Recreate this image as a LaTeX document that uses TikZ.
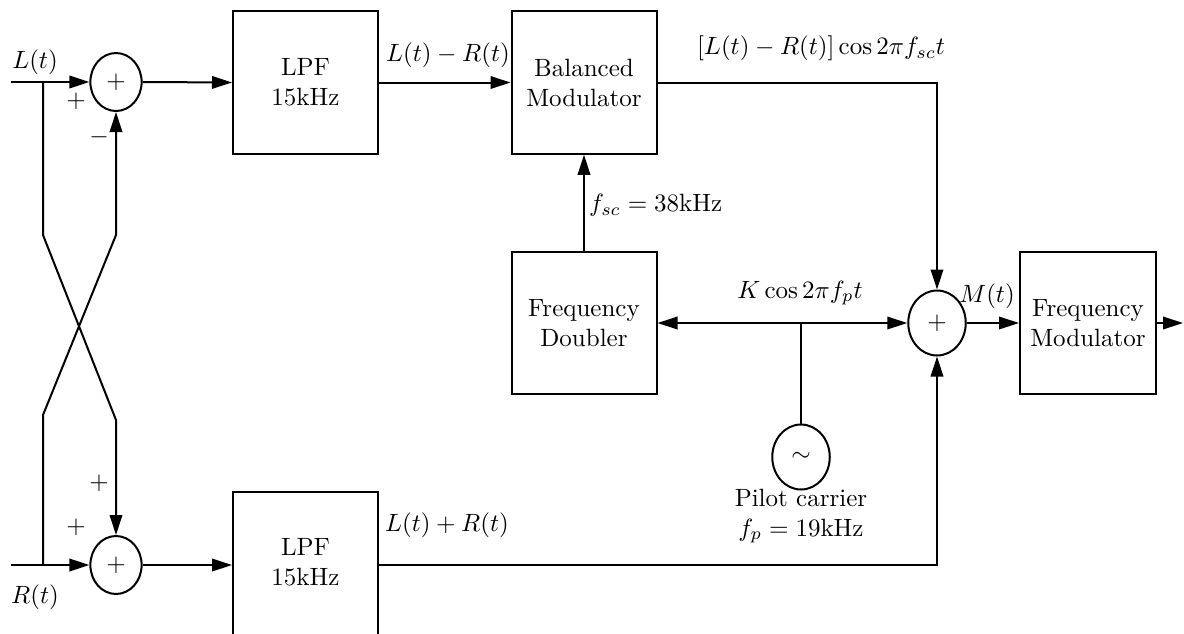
\documentclass[tikz,border=0pt]{standalone}
\usetikzlibrary{arrows.meta,shapes.geometric,calc}
\begin{document}
\begin{tikzpicture}[x=0.4pt,y=-0.4pt,
  line width=0.8pt,
  arr/.style={-{Triangle[length=8pt,width=5pt]}},
  blk/.style={draw,line width=0.8pt,rectangle,align=center,inner sep=0pt,minimum width=58pt,minimum height=57pt},
  summ/.style={draw,line width=0.8pt,ellipse,inner sep=0pt,minimum width=20.5pt,minimum height=23.2pt},
  summb/.style={draw,line width=0.8pt,ellipse,inner sep=0pt,minimum width=23pt,minimum height=26pt},
  lbl/.style={inner sep=0pt}]
\useasboundingbox (0,0) rectangle (1184,633);
% summers
\node[summ] (s1) at (116,82) {$+$};
\node[summ] (s2) at (116,565) {$+$};
\node[summb] (s3) at (937,323) {$+$};
% blocks
\node[blk] (lpft) at (305.5,82.5) {LPF\\15kHz};
\node[blk] (bal) at (584,82.5) {Balanced\\Modulator};
\node[blk] (fd) at (584,323) {Frequency\\Doubler};
\node[blk,minimum width=54.4pt] (fm) at (1088,323) {Frequency\\Modulator};
\node[blk,minimum height=58.4pt] (lpfb) at (305.5,565) {};
\node[lbl,align=center] (lpfbt) at (305.5,562) {LPF\\15kHz};
% oscillator
\node[summb] (osc) at (801,457) {$\sim$};
% coordinates
\coordinate (Lin) at (11,82);
\coordinate (Rin) at (11,565);
\coordinate (j1) at (43,82);
\coordinate (j2) at (43,565);
\coordinate (c1) at (43,235);
\coordinate (c2) at (116,420);
\coordinate (c3) at (116,235);
\coordinate (c4) at (43,415);
\coordinate (k1) at (937,82.5);
\coordinate (k2) at (937,565);
\coordinate (jp) at (801,323);
\coordinate (out) at (1183,323);
% connectors
\draw[arr] (Lin) -- (s1.west);
\draw[arr] (Rin) -- (s2.west);
\draw[arr] (j1) -- (c1) -- (c2) -- (s2.north);
\draw[arr] (j2) -- (c4) -- (c3) -- (s1.south);
\draw[arr] (s1.east) -- (lpft.west);
\draw[arr] (s2.east) -- (lpfb.west);
\draw[arr] (lpft.east) -- (bal.west);
\draw[arr] (bal.east) -- (k1) -- (s3.north);
\draw[arr] (fd.north) -- (bal.south);
\draw[arr] (jp) -- (fd.east);
\draw[arr] (jp) -- (s3.west);
\draw (jp) -- (osc.north);
\draw[arr] (lpfb.east) -- (k2) -- (s3.south);
\draw[arr] (s3.east) -- (fm.west);
\draw[arr] (fm.east) -- (out);
% labels
\node[lbl] (tL) at (35,62) {$L(t)$};
\node[lbl] (tR) at (35,597) {$R(t)$};
\node[lbl] (p1) at (76,101) {$+$};
\node[lbl] (m1) at (99,137) {$-$};
\node[lbl] (p2) at (99,483) {$+$};
\node[lbl] (p3) at (76,527) {$+$};
\node[lbl] (tdiff) at (448,55) {$L(t)-R(t)$};
\node[lbl] (tmod) at (821,48) {$[L(t)-R(t)]\cos 2\pi f_{sc}t$};
\node[lbl,anchor=west] (tfsc) at (588,205) {$f_{sc}=38\mathrm{kHz}$};
\node[lbl] (tK) at (800,293) {$K\cos 2\pi f_p t$};
\node[lbl] (tM) at (987,296) {$M(t)$};
\node[lbl] (tsum) at (447,525) {$L(t)+R(t)$};
\node[lbl,align=center] (tpil) at (801,516) {Pilot carrier\\$f_p=19\mathrm{kHz}$};
\end{tikzpicture}
\end{document}
